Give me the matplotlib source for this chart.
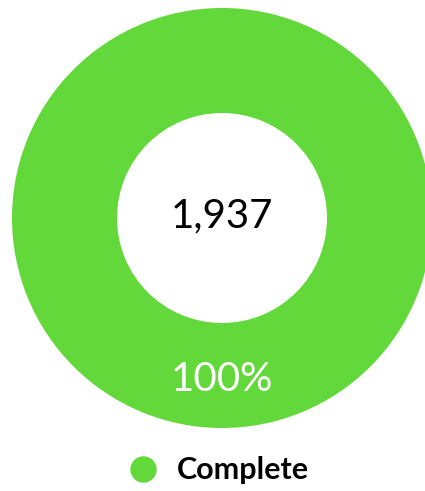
import matplotlib.pyplot as plt
from matplotlib.lines import Line2D

# data
labels = ['Complete']
values = [1937]
colors = ['#62d83a']
total_label = '1,937'

plt.rcParams['font.family'] = ['Lato', 'DejaVu Sans']

fig = plt.figure(figsize=(4.25, 4.91), dpi=100)
# pie axes sized so the ring fills the top of the figure (it runs slightly past the right edge)
ax = fig.add_axes([12 / 425, 63 / 491, 420 / 425, 420 / 491])

wedges, texts, autotexts = ax.pie(
    values, colors=colors, startangle=90, counterclock=False,
    autopct=lambda p: '%d%%' % round(p), pctdistance=0.77,
    wedgeprops=dict(width=0.5, linewidth=0),
    textprops=dict(color='white', fontsize=29))
ax.set_xlim(-1, 1)
ax.set_ylim(-1, 1)
ax.set_aspect('equal')

ax.text(0, 0.01, total_label, ha='center', va='center', fontsize=29, color='black')

handles = [Line2D([0], [0], marker='o', linestyle='', markersize=18,
                  markerfacecolor=c, markeredgecolor=c) for c in colors]
fig.legend(handles, labels, loc='center', bbox_to_anchor=(0.51, 0.042),
           frameon=False, handletextpad=0.5, handlelength=1.2,
           prop=dict(weight='bold', size=22))

fig.savefig('out.png', dpi=100)
